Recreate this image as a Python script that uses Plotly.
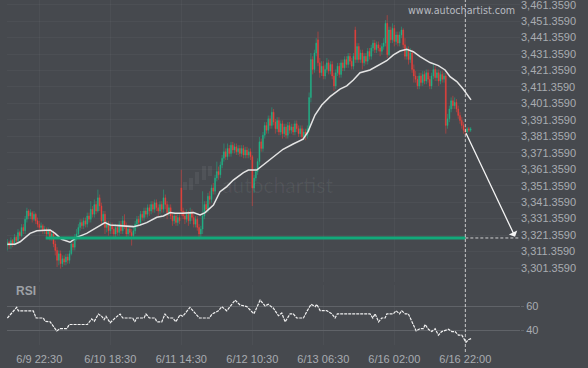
import plotly.graph_objects as go

# ---------------- data ----------------
bar_open = [
3315,3317,3315,3318,3316,3320,3318,3323,3321,3326,
3324,3331,3336,3333,3335,3331,3334,3330,3328,3326,
3327,3324,3325,3322,3324,3320,3322,3316,3312,3306,
3310,3304,3307,3305,3308,3306,3310,3316,3314,3320,
3322,3326,3329,3327,3330,3328,3333,3331,3337,3334,
3340,3336,3344,3339,3330,3334,3326,3328,3324,3327,
3325,3322,3326,3323,3328,3324,3330,3327,3322,3325,
3323,3321,3324,3328,3331,3329,3334,3332,3336,3334,
3338,3336,3340,3337,3341,3338,3336,3340,3337,3344,
3340,3335,3338,3333,3330,3333,3329,3332,3350,3336,
3333,3331,3334,3330,3335,3332,3328,3331,3326,3322,
3325,3333,3340,3337,3345,3343,3350,3348,3356,3360,
3358,3364,3368,3372,3369,3374,3371,3376,3373,3375,
3372,3374,3371,3374,3370,3373,3370,3372,3369,3350,
3356,3360,3366,3378,3374,3382,3388,3385,3392,3388,
3396,3390,3386,3391,3384,3389,3383,3387,3382,3388,
3385,3387,3384,3389,3386,3383,3386,3381,3384,3382,
3386,3405,3428,3422,3432,3440,3426,3420,3424,3418,
3422,3426,3421,3425,3418,3412,3420,3424,3419,3426,
3423,3428,3425,3430,3427,3424,3446,3428,3436,3428,
3432,3426,3430,3427,3433,3430,3435,3438,3434,3437,
3435,3433,3436,3438,3450,3431,3446,3440,3447,3439,
3443,3438,3443,3446,3437,3430,3434,3428,3432,3422,
3418,3416,3412,3418,3414,3419,3415,3420,3416,3412,
3418,3422,3417,3420,3415,3419,3416,3418,3388,3392,
3398,3403,3400,3402,3398,3394,3391,3388,3385,3384,
3386,3385]
bar_high = [
3319,3318,3320,3319,3322,3321,3325,3324,3328,3328,
3333,3338,3337,3337,3336,3336,3335,3332,3330,3329,
3328,3327,3326,3326,3325,3324,3324,3318,3314,3312,
3312,3309,3309,3310,3310,3312,3318,3318,3322,3325,
3328,3331,3331,3332,3332,3335,3335,3342,3339,3343,
3342,3349,3346,3341,3336,3336,3330,3330,3329,3329,
3327,3328,3328,3330,3330,3333,3334,3329,3327,3327,
3325,3326,3330,3333,3333,3336,3336,3338,3338,3340,
3340,3342,3342,3343,3343,3340,3342,3342,3349,3346,
3342,3340,3340,3335,3335,3335,3334,3334,3361,3338,
3336,3337,3336,3338,3337,3334,3333,3333,3328,3327,
3348,3342,3342,3347,3348,3352,3353,3358,3366,3363,
3366,3370,3377,3374,3377,3376,3378,3378,3377,3377,
3376,3376,3376,3376,3375,3375,3374,3374,3370,3358,
3362,3368,3381,3380,3384,3390,3390,3394,3394,3399,
3398,3392,3393,3393,3391,3391,3389,3389,3390,3390,
3389,3389,3391,3391,3388,3388,3388,3386,3386,3388,
3408,3432,3430,3434,3441,3445,3429,3427,3427,3425,
3429,3428,3427,3427,3420,3422,3426,3426,3428,3428,
3430,3430,3432,3432,3429,3432,3448,3438,3438,3434,
3434,3432,3432,3435,3435,3437,3440,3440,3439,3439,
3437,3438,3441,3452,3455,3448,3448,3450,3449,3445,
3445,3445,3448,3447,3441,3436,3436,3435,3434,3425,
3421,3418,3420,3420,3421,3421,3422,3422,3418,3420,
3425,3424,3422,3422,3421,3421,3420,3420,3395,3400,
3405,3406,3405,3404,3400,3396,3393,3390,3387,3387,
3387,3387]
bar_low = [
3312,3313,3313,3314,3315,3316,3317,3319,3320,3322,
3322,3329,3331,3331,3329,3330,3328,3326,3324,3324,
3322,3322,3320,3321,3318,3318,3314,3309,3302,3303,
3301,3302,3303,3303,3304,3304,3309,3312,3312,3318,
3320,3324,3325,3325,3326,3326,3329,3329,3332,3332,
3334,3335,3336,3328,3328,3322,3323,3321,3322,3322,
3320,3320,3321,3321,3322,3322,3325,3320,3320,3321,
3315,3319,3322,3326,3327,3327,3330,3330,3332,3332,
3333,3334,3335,3335,3336,3333,3334,3335,3335,3337,
3331,3333,3331,3327,3328,3327,3327,3328,3333,3331,
3328,3329,3327,3328,3330,3326,3326,3324,3320,3320,
3322,3331,3335,3335,3340,3341,3346,3346,3354,3355,
3356,3362,3366,3367,3367,3369,3369,3371,3371,3370,
3370,3369,3369,3368,3368,3368,3368,3367,3339,3347,
3354,3358,3364,3372,3372,3380,3383,3383,3386,3386,
3388,3383,3384,3382,3382,3380,3381,3380,3380,3383,
3383,3382,3382,3384,3381,3381,3379,3379,3379,3380,
3384,3402,3419,3420,3430,3424,3417,3418,3416,3416,
3420,3419,3419,3416,3409,3410,3418,3417,3417,3421,
3421,3423,3423,3425,3422,3422,3426,3426,3426,3426,
3422,3424,3425,3425,3428,3428,3433,3432,3432,3433,
3430,3431,3434,3436,3429,3430,3438,3438,3436,3437,
3436,3436,3441,3435,3428,3428,3425,3426,3420,3414,
3414,3410,3410,3412,3412,3413,3413,3414,3410,3410,
3416,3415,3415,3412,3413,3414,3414,3383,3386,3390,
3396,3398,3398,3396,3392,3389,3386,3383,3382,3383,
3384,3384]
bar_close = [
3317,3315,3318,3316,3320,3318,3323,3321,3326,3324,
3331,3336,3333,3335,3331,3334,3330,3328,3326,3327,
3324,3325,3322,3324,3320,3322,3316,3312,3306,3310,
3304,3307,3305,3308,3306,3310,3316,3314,3320,3322,
3326,3329,3327,3330,3328,3333,3331,3337,3334,3340,
3336,3344,3339,3330,3334,3326,3328,3324,3327,3325,
3322,3326,3323,3328,3324,3330,3327,3322,3325,3323,
3321,3324,3328,3331,3329,3334,3332,3336,3334,3338,
3336,3340,3337,3341,3338,3336,3340,3337,3344,3340,
3335,3338,3333,3330,3333,3329,3332,3330,3336,3333,
3331,3334,3330,3335,3332,3328,3331,3326,3322,3325,
3333,3340,3337,3345,3343,3350,3348,3356,3360,3358,
3364,3368,3372,3369,3374,3371,3376,3373,3375,3372,
3374,3371,3374,3370,3373,3370,3372,3369,3350,3356,
3360,3366,3378,3374,3382,3388,3385,3392,3388,3396,
3390,3386,3391,3384,3389,3383,3387,3382,3388,3385,
3387,3384,3389,3386,3383,3386,3381,3384,3382,3386,
3405,3428,3422,3432,3438,3426,3420,3424,3418,3422,
3426,3421,3425,3418,3412,3420,3424,3419,3426,3423,
3428,3425,3430,3427,3424,3430,3428,3436,3428,3432,
3426,3430,3427,3433,3430,3435,3438,3434,3437,3435,
3433,3436,3438,3450,3431,3446,3440,3447,3439,3443,
3438,3443,3446,3437,3430,3434,3428,3432,3422,3418,
3416,3412,3418,3414,3419,3415,3420,3416,3412,3418,
3422,3417,3420,3415,3419,3416,3418,3388,3392,3398,
3403,3400,3402,3398,3394,3391,3388,3385,3384,3386,
3385,3386]
bar_index = list(range(len(bar_close)))

# moving average
ma_idx = [0,4.3,7.2,12.8,16.6,24.1,26.9,30.6,35.3,39.1,44.7,50.4,55.0,57.9,63.5,71.0,74.8,78.5,
          84.2,87.9,91.7,94.5,98.3,104.8,108.6,111.4,116.1,119.8,123.6,127.3,133.0,135.8,140.5,
          144.1,149.7,155.3,161.0,166.6,169.4,173.3,177.1,181.8,187.4,191.2,194.9,198.7,204.3,
          209.9,213.7,217.5,221.2,225.0,228.7,232.5,238.1,242.8,246.6,249.4,253.2,256.9,261.2]
ma_val = [3315.8,3315.8,3317.3,3322.4,3324.0,3324.5,3322.4,3318.8,3317.0,3320.0,3322.4,3326.1,
          3328.9,3327.5,3326.9,3326.5,3327.5,3328.9,3332.2,3333.0,3335.0,3334.6,3334.6,3335.0,
          3333.6,3335.0,3339.6,3347.7,3350.8,3354.8,3359.3,3360.9,3360.9,3364.0,3369.0,3373.5,
          3376.7,3379.6,3384.2,3394.3,3400.4,3405.5,3410.0,3412.0,3415.6,3420.0,3421.7,3425.3,
          3427.3,3430.8,3433.2,3434.3,3432.8,3429.8,3426.2,3424.3,3421.7,3417.6,3414.6,3410.0,3403.5]

# RSI
rsi_idx = [0,5.3,6.2,14.6,16.2,20.3,21.2,24.1,27.8,29.7,33.5,34.9,45.1,47.5,49.0,51.3,53.2,54.5,
           55.6,57.9,60.7,63.5,65.0,70.6,71.8,72.9,77.0,78.1,80.0,83.2,84.2,87.0,88.8,90.7,93.2,
           94.9,97.3,98.8,102.9,104.8,108.2,113.8,115.3,118.9,120.8,123.6,128.3,131.1,134.9,
           138.9,142.4,145.2,147.0,149.9,152.7,154.6,156.5,159.3,161.1,163.0,166.8,168.7,171.1,
           173.4,174.3,176.2,179.9,182.8,184.6,185.9,204.3,205.9,207.2,209.1,210.9,212.8,213.8,
           217.5,219.0,220.9,222.2,224.1,225.9,230.3,232.5,234.4,235.3,237.2,239.1,241.0,242.8,
           244.7,248.5,250.4,252.2,254.1,256.0,258.4,259.7,261.6]
rsi_val = [50.0,58.9,56.0,56.0,50.0,50.0,47.3,46.8,39.2,41.1,41.1,44.6,44.6,49.2,47.3,53.3,51.4,48.7,
           51.4,46.0,50.0,53.3,50.0,50.0,46.8,50.0,50.0,53.3,50.0,50.0,46.8,46.8,53.3,50.0,50.0,
           46.8,52.7,51.4,58.9,56.0,50.0,50.0,53.3,56.0,59.5,56.0,64.9,60.8,59.5,
           53.5,64.9,60.0,61.4,58.1,51.9,54.1,46.8,53.5,53.5,50.0,50.0,55.4,61.4,
           59.5,61.4,56.2,56.2,53.5,50.0,53.5,53.5,50.0,53.5,46.8,50.0,50.0,53.5,
           53.5,56.0,53.5,56.0,53.5,53.5,39.2,41.1,41.1,44.6,40.6,38.7,41.1,35.7,
           38.7,40.6,38.7,38.7,35.7,35.7,29.8,31.9,33.0]

level_price = 3319.6
level_start_idx = 21.6
level_end_idx = 258
signal_idx = 258
arrow_start_price = 3384.2
arrow_end_idx = 286
arrow_end_price = 3320.4
dash_end_idx = 288

price_tick_vals = [3301.359, 3311.359, 3321.359, 3331.359, 3341.359, 3351.359, 3361.359, 3371.359,
                   3381.359, 3391.359, 3401.359, 3411.359, 3421.359, 3431.359, 3441.359, 3451.359, 3461.359]
price_tick_text = ["3,301.3590", "3,311.3590", "3,321.3590", "3,331.3590", "3,341.3590", "3,351.3590",
                   "3,361.3590", "3,371.3590", "3,381.3590", "3,391.3590", "3,401.3590", "3,411.3590",
                   "3,421.3590", "3,431.3590", "3,441.3590", "3,451.3590", "3,461.3590"]
date_tick_idx = [18, 58, 98, 138, 178, 218, 258]
date_tick_text = ["6/9 22:30", "6/10 18:30", "6/11 14:30", "6/12 10:30", "6/13 06:30", "6/16 02:00", "6/16 22:00"]
rsi_tick_vals = [40, 60]

# ---------------- style ----------------
BG = "#46494e"
GREEN = "#1fb98a"
RED = "#f2403a"
LEVEL = "#12a97a"
TXT = "#a9acb1"
FONT = "Liberation Sans, Arial, sans-serif"

W, H = 588, 368
X_DOM = [7 / W, 520 / W]
X_RANGE = [-0.2, 288.8]
Y_MAIN_DOM = [86 / H, 1.0]
Y_MAIN_RANGE = [3292.85, 3464.2]
Y_RSI_DOM = [23 / H, 83 / H]
Y_RSI_RANGE = [27.5, 77.5]

fig = go.Figure()

fig.add_trace(go.Candlestick(
    x=bar_index, open=bar_open, high=bar_high, low=bar_low, close=bar_close,
    increasing=dict(line=dict(color=GREEN, width=0.5), fillcolor=GREEN),
    decreasing=dict(line=dict(color=RED, width=0.5), fillcolor=RED),
    whiskerwidth=0, hoverinfo="skip", xaxis="x", yaxis="y"))

fig.add_trace(go.Scatter(x=ma_idx, y=ma_val, mode="lines",
                         line=dict(color="#e4e4e4", width=1.5), hoverinfo="skip",
                         xaxis="x", yaxis="y"))

fig.add_trace(go.Scatter(x=[level_start_idx, level_end_idx], y=[level_price, level_price], mode="lines",
                         line=dict(color=LEVEL, width=3), hoverinfo="skip", xaxis="x", yaxis="y"))

fig.add_trace(go.Scatter(x=[signal_idx, dash_end_idx], y=[level_price, level_price], mode="lines",
                         line=dict(color="rgba(255,255,255,0.75)", width=1, dash="3px,2px"),
                         hoverinfo="skip", xaxis="x", yaxis="y"))

fig.add_trace(go.Scatter(x=rsi_idx, y=rsi_val, mode="lines",
                         line=dict(color="#f0f0f0", width=1.2, dash="3px,1px"), hoverinfo="skip",
                         xaxis="x2", yaxis="y2"))

fig.add_annotation(x=arrow_end_idx, y=arrow_end_price, ax=signal_idx, ay=arrow_start_price,
                   xref="x", yref="y", axref="x", ayref="y", text="", showarrow=True,
                   arrowhead=1, arrowsize=1.2, arrowwidth=1.3, arrowcolor="#f4f4f4")

# vertical dashed signal line across both panels
fig.add_shape(type="line", xref="x", yref="paper", x0=signal_idx, x1=signal_idx, y0=16 / H, y1=1.0,
              line=dict(color="rgba(255,255,255,0.7)", width=1, dash="3px,2px"))

# watermark
fig.add_annotation(text="autochartist", xref="paper", yref="paper", x=277 / W, y=1 - 185 / H,
                   xanchor="center", yanchor="middle",
                   showarrow=False, font=dict(family="Lato, sans-serif", size=21,
                                              color="rgba(255,255,255,0.06)"))
for (x0, x1, y0, y1) in [(183, 187, 182, 190), (189, 193, 178, 190), (195, 199, 172, 184),
                         (202, 206, 166, 180), (208, 212, 166, 176)]:
    fig.add_shape(type="rect", xref="paper", yref="paper", x0=x0 / W, x1=x1 / W,
                  y0=1 - y1 / H, y1=1 - y0 / H, line=dict(width=0),
                  fillcolor="rgba(255,255,255,0.06)", layer="below")

fig.add_annotation(text="www.autochartist.com", xref="paper", yref="paper", x=461.5 / W, y=1 - 11 / H,
                   xanchor="center", yanchor="middle",
                   showarrow=False, font=dict(family="DejaVu Sans, sans-serif", size=9.6, color="#b8bbc0"))
fig.add_annotation(text="<b>RSI</b>", xref="paper", yref="paper", x=14 / W, y=1 - 291 / H,
                   xanchor="left", yanchor="middle", showarrow=False,
                   font=dict(family=FONT, size=12, color="#9ea1a6"))

GRID = "rgba(255,255,255,0.035)"
fig.update_layout(
    width=W, height=H, margin=dict(l=0, r=0, t=0, b=0),
    paper_bgcolor=BG, plot_bgcolor=BG, showlegend=False,
    font=dict(family=FONT, size=11, color=TXT),
    xaxis=dict(domain=X_DOM, range=X_RANGE, anchor="y", showticklabels=False,
               tickvals=date_tick_idx, showgrid=True, gridcolor=GRID, zeroline=False,
               rangeslider=dict(visible=False), fixedrange=True),
    yaxis=dict(domain=Y_MAIN_DOM, range=Y_MAIN_RANGE, side="right", anchor="x",
               tickvals=price_tick_vals, ticktext=price_tick_text, showgrid=True, gridcolor=GRID,
               zeroline=False, ticks="", tickfont=dict(size=11, color=TXT),
               ticklabeloverflow="allow"),
    xaxis2=dict(domain=X_DOM, range=X_RANGE, anchor="y2", tickvals=date_tick_idx,
                ticktext=date_tick_text, showgrid=True, gridcolor=GRID, zeroline=False,
                ticks="outside", ticklen=4, tickcolor=BG, tickfont=dict(size=11, color=TXT)),
    yaxis2=dict(domain=Y_RSI_DOM, range=Y_RSI_RANGE, side="right", anchor="x2",
                tickvals=rsi_tick_vals, showgrid=True, gridcolor="#606368", gridwidth=1,
                zeroline=False, ticks="outside", ticklen=3, tickcolor="#606368",
                tickfont=dict(size=11, color=TXT)),
)

fig.write_html("out.html", config={"displayModeBar": False},
               post_script="document.body.style.margin='0';")
